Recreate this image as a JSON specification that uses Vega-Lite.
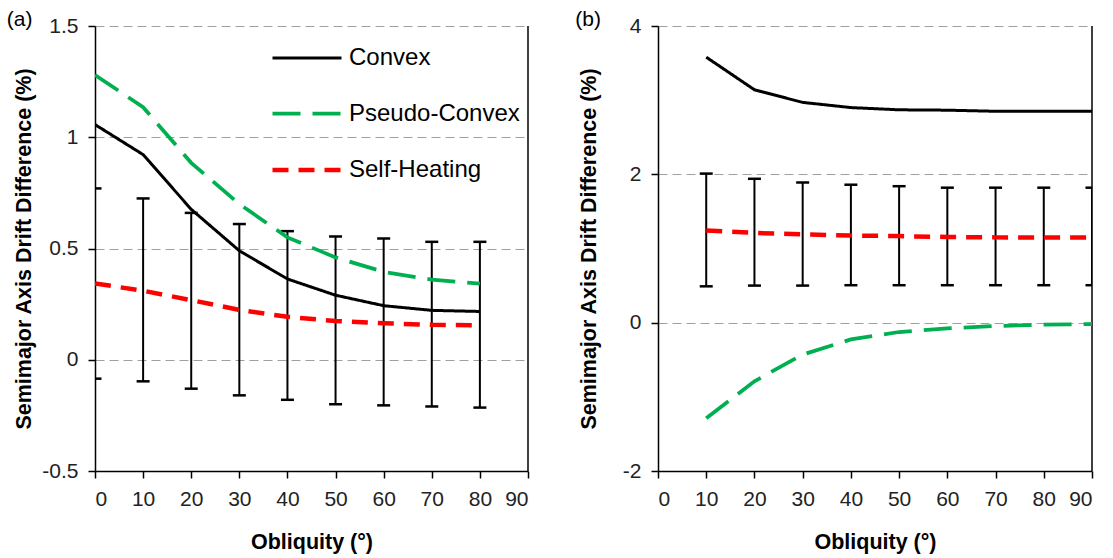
{
  "$schema": "https://vega.github.io/schema/vega-lite/v6.json",
  "background": "white",
  "padding": {"left": 6, "top": 9, "right": 5, "bottom": 5},
  "spacing": 46,
  "config": {
    "view": {"stroke": null},
    "axis": {
      "labelFont": "Liberation Sans", "labelFontSize": 21, "labelColor": "#222222",
      "titleFont": "Liberation Sans", "titleFontSize": 21.5, "titleFontWeight": "bold", "titleColor": "#000000",
      "domainColor": "#000000", "domainWidth": 1.5, "tickColor": "#000000", "tickWidth": 1.5, "tickSize": 7,
      "labelPadding": 10, "gridColor": "#a0a0a0", "gridDash": [9, 5], "gridWidth": 1
    },
    "axisX": {"grid": false},
    "axisY": {"grid": true},
    "title": {"font": "Liberation Sans", "fontSize": 21, "fontWeight": "normal", "color": "#000000", "anchor": "start", "frame": "bounds"}
  },
  "resolve": {
    "scale": {"color": "independent", "strokeDash": "independent", "strokeWidth": "independent"},
    "legend": {"color": "independent", "strokeDash": "independent"}
  },
  "datasets": {
    "a_lines": [
      {"obliquity": 0, "series": "Convex", "value": 1.057},
      {"obliquity": 10, "series": "Convex", "value": 0.922},
      {"obliquity": 20, "series": "Convex", "value": 0.676},
      {"obliquity": 30, "series": "Convex", "value": 0.49},
      {"obliquity": 40, "series": "Convex", "value": 0.363},
      {"obliquity": 50, "series": "Convex", "value": 0.29},
      {"obliquity": 60, "series": "Convex", "value": 0.243},
      {"obliquity": 70, "series": "Convex", "value": 0.222},
      {"obliquity": 80, "series": "Convex", "value": 0.217},
      {"obliquity": 0, "series": "Pseudo-Convex", "value": 1.28},
      {"obliquity": 10, "series": "Pseudo-Convex", "value": 1.135},
      {"obliquity": 20, "series": "Pseudo-Convex", "value": 0.885},
      {"obliquity": 30, "series": "Pseudo-Convex", "value": 0.7},
      {"obliquity": 40, "series": "Pseudo-Convex", "value": 0.55},
      {"obliquity": 50, "series": "Pseudo-Convex", "value": 0.46},
      {"obliquity": 60, "series": "Pseudo-Convex", "value": 0.395},
      {"obliquity": 70, "series": "Pseudo-Convex", "value": 0.36},
      {"obliquity": 80, "series": "Pseudo-Convex", "value": 0.342},
      {"obliquity": 0, "series": "Self-Heating", "value": 0.343},
      {"obliquity": 10, "series": "Self-Heating", "value": 0.31},
      {"obliquity": 20, "series": "Self-Heating", "value": 0.268},
      {"obliquity": 30, "series": "Self-Heating", "value": 0.224},
      {"obliquity": 40, "series": "Self-Heating", "value": 0.193},
      {"obliquity": 50, "series": "Self-Heating", "value": 0.174},
      {"obliquity": 60, "series": "Self-Heating", "value": 0.164},
      {"obliquity": 70, "series": "Self-Heating", "value": 0.157},
      {"obliquity": 80, "series": "Self-Heating", "value": 0.155}
    ],
    "a_err": [
      {"obliquity": 0, "lo": -0.085, "hi": 0.77},
      {"obliquity": 10, "lo": -0.097, "hi": 0.725},
      {"obliquity": 20, "lo": -0.13, "hi": 0.66},
      {"obliquity": 30, "lo": -0.16, "hi": 0.61},
      {"obliquity": 40, "lo": -0.18, "hi": 0.578},
      {"obliquity": 50, "lo": -0.2, "hi": 0.554},
      {"obliquity": 60, "lo": -0.205, "hi": 0.545},
      {"obliquity": 70, "lo": -0.21, "hi": 0.53},
      {"obliquity": 80, "lo": -0.215, "hi": 0.53}
    ],
    "b_lines": [
      {"obliquity": 10, "series": "Convex", "value": 3.58},
      {"obliquity": 20, "series": "Convex", "value": 3.14},
      {"obliquity": 30, "series": "Convex", "value": 2.97},
      {"obliquity": 40, "series": "Convex", "value": 2.9},
      {"obliquity": 50, "series": "Convex", "value": 2.87},
      {"obliquity": 60, "series": "Convex", "value": 2.865},
      {"obliquity": 70, "series": "Convex", "value": 2.85},
      {"obliquity": 80, "series": "Convex", "value": 2.85},
      {"obliquity": 90, "series": "Convex", "value": 2.85},
      {"obliquity": 10, "series": "Pseudo-Convex", "value": -1.29},
      {"obliquity": 20, "series": "Pseudo-Convex", "value": -0.79},
      {"obliquity": 30, "series": "Pseudo-Convex", "value": -0.43},
      {"obliquity": 40, "series": "Pseudo-Convex", "value": -0.226},
      {"obliquity": 50, "series": "Pseudo-Convex", "value": -0.126},
      {"obliquity": 60, "series": "Pseudo-Convex", "value": -0.077},
      {"obliquity": 70, "series": "Pseudo-Convex", "value": -0.045},
      {"obliquity": 80, "series": "Pseudo-Convex", "value": -0.027},
      {"obliquity": 90, "series": "Pseudo-Convex", "value": -0.02},
      {"obliquity": 10, "series": "Self-Heating", "value": 1.243},
      {"obliquity": 20, "series": "Self-Heating", "value": 1.21},
      {"obliquity": 30, "series": "Self-Heating", "value": 1.19},
      {"obliquity": 40, "series": "Self-Heating", "value": 1.175},
      {"obliquity": 50, "series": "Self-Heating", "value": 1.167},
      {"obliquity": 60, "series": "Self-Heating", "value": 1.155},
      {"obliquity": 70, "series": "Self-Heating", "value": 1.15},
      {"obliquity": 80, "series": "Self-Heating", "value": 1.15},
      {"obliquity": 90, "series": "Self-Heating", "value": 1.15}
    ],
    "b_err": [
      {"obliquity": 10, "lo": 0.49, "hi": 2.01},
      {"obliquity": 20, "lo": 0.5, "hi": 1.94},
      {"obliquity": 30, "lo": 0.5, "hi": 1.89},
      {"obliquity": 40, "lo": 0.505, "hi": 1.86},
      {"obliquity": 50, "lo": 0.505, "hi": 1.84},
      {"obliquity": 60, "lo": 0.505, "hi": 1.82},
      {"obliquity": 70, "lo": 0.505, "hi": 1.82},
      {"obliquity": 80, "lo": 0.505, "hi": 1.82},
      {"obliquity": 90, "lo": 0.505, "hi": 1.82}
    ],
    "border": [{"edge": 90}]
  },
  "hconcat": [
    {
      "width": 433,
      "height": 445,
      "title": {"text": "(a)", "offset": -15, "dx": -7},
      "layer": [
        {
          "data": {"name": "a_err"},
          "mark": {"type": "rule", "color": "#000000", "strokeWidth": 2, "clip": true},
          "encoding": {
            "x": {"field": "obliquity", "type": "quantitative", "scale": {"domain": [0, 90], "nice": false},
              "axis": {"values": [0, 10, 20, 30, 40, 50, 60, 70, 80, 90], "title": "Obliquity (°)", "titlePadding": 22}},
            "y": {"field": "lo", "type": "quantitative", "scale": {"domain": [-0.5, 1.5], "nice": false},
              "axis": {"values": [-0.5, 0, 0.5, 1, 1.5], "labelExpr": "'' + datum.value", "grid": true, "title": "Semimajor Axis Drift Difference (%)", "titlePadding": 6}},
            "y2": {"field": "hi"}
          }
        },
        {
          "data": {"name": "a_err"},
          "mark": {"type": "tick", "orient": "horizontal", "color": "#000000", "size": 13, "thickness": 2.5, "clip": true, "opacity": 1},
          "encoding": {
            "x": {"field": "obliquity", "type": "quantitative"},
            "y": {"field": "lo", "type": "quantitative"}
          }
        },
        {
          "data": {"name": "a_err"},
          "mark": {"type": "tick", "orient": "horizontal", "color": "#000000", "size": 13, "thickness": 2.5, "clip": true, "opacity": 1},
          "encoding": {
            "x": {"field": "obliquity", "type": "quantitative"},
            "y": {"field": "hi", "type": "quantitative"}
          }
        },
        {
          "data": {"name": "border"},
          "mark": {"type": "rule", "color": "#000000", "strokeWidth": 1.5},
          "encoding": {
            "x": {"field": "edge", "type": "quantitative"}
          }
        },
        {
          "data": {"name": "a_lines"},
          "mark": {"type": "line", "clip": true},
          "encoding": {
            "x": {"field": "obliquity", "type": "quantitative"},
            "y": {"field": "value", "type": "quantitative"},
            "color": {"field": "series", "type": "nominal",
              "scale": {"domain": ["Convex", "Pseudo-Convex", "Self-Heating"], "range": ["#000000", "#00B050", "#FF0000"]},
              "legend": {"orient": "none", "legendX": 175, "legendY": -4, "title": null, "symbolType": "stroke", "symbolSize": 4761,
                "symbolStrokeWidth": 4.5, "labelFont": "Liberation Sans", "labelFontSize": 24, "labelColor": "#000000",
                "labelOffset": 5, "rowPadding": 7, "padding": 0, "labelLimit": 300}},
            "strokeDash": {"field": "series", "type": "nominal",
              "scale": {"domain": ["Convex", "Pseudo-Convex", "Self-Heating"], "range": [[1, 0], [28, 12], [16, 10]]},
              "legend": {"orient": "none", "legendX": 175, "legendY": -4, "title": null, "symbolType": "stroke", "symbolSize": 4761,
                "symbolStrokeWidth": 4.5, "labelFont": "Liberation Sans", "labelFontSize": 24, "labelColor": "#000000",
                "labelOffset": 5, "rowPadding": 7, "padding": 0, "labelLimit": 300}},
            "strokeWidth": {"field": "series", "type": "nominal",
              "scale": {"domain": ["Convex", "Pseudo-Convex", "Self-Heating"], "range": [3, 4.5, 4]}, "legend": null}
          }
        }
      ]
    },
    {
      "width": 434,
      "height": 445,
      "title": {"text": "(b)", "offset": -15, "dx": -3},
      "layer": [
        {
          "data": {"name": "b_err"},
          "mark": {"type": "rule", "color": "#000000", "strokeWidth": 2, "clip": true},
          "encoding": {
            "x": {"field": "obliquity", "type": "quantitative", "scale": {"domain": [0, 90], "nice": false},
              "axis": {"values": [0, 10, 20, 30, 40, 50, 60, 70, 80, 90], "title": "Obliquity (°)", "titlePadding": 22}},
            "y": {"field": "lo", "type": "quantitative", "scale": {"domain": [-2, 4], "nice": false},
              "axis": {"values": [-2, 0, 2, 4], "labelExpr": "'' + datum.value", "grid": true, "title": "Semimajor Axis Drift Difference (%)", "titlePadding": 22}},
            "y2": {"field": "hi"}
          }
        },
        {
          "data": {"name": "b_err"},
          "mark": {"type": "tick", "orient": "horizontal", "color": "#000000", "size": 13, "thickness": 2.5, "clip": true, "opacity": 1},
          "encoding": {
            "x": {"field": "obliquity", "type": "quantitative"},
            "y": {"field": "lo", "type": "quantitative"}
          }
        },
        {
          "data": {"name": "b_err"},
          "mark": {"type": "tick", "orient": "horizontal", "color": "#000000", "size": 13, "thickness": 2.5, "clip": true, "opacity": 1},
          "encoding": {
            "x": {"field": "obliquity", "type": "quantitative"},
            "y": {"field": "hi", "type": "quantitative"}
          }
        },
        {
          "data": {"name": "border"},
          "mark": {"type": "rule", "color": "#000000", "strokeWidth": 1.5},
          "encoding": {
            "x": {"field": "edge", "type": "quantitative"}
          }
        },
        {
          "data": {"name": "b_lines"},
          "mark": {"type": "line", "clip": true},
          "encoding": {
            "x": {"field": "obliquity", "type": "quantitative"},
            "y": {"field": "value", "type": "quantitative"},
            "color": {"field": "series", "type": "nominal",
              "scale": {"domain": ["Convex", "Pseudo-Convex", "Self-Heating"], "range": ["#000000", "#00B050", "#FF0000"]}, "legend": null},
            "strokeDash": {"field": "series", "type": "nominal",
              "scale": {"domain": ["Convex", "Pseudo-Convex", "Self-Heating"], "range": [[1, 0], [28, 12], [16, 10]]}, "legend": null},
            "strokeWidth": {"field": "series", "type": "nominal",
              "scale": {"domain": ["Convex", "Pseudo-Convex", "Self-Heating"], "range": [3, 4.5, 4]}, "legend": null}
          }
        }
      ]
    }
  ]
}
